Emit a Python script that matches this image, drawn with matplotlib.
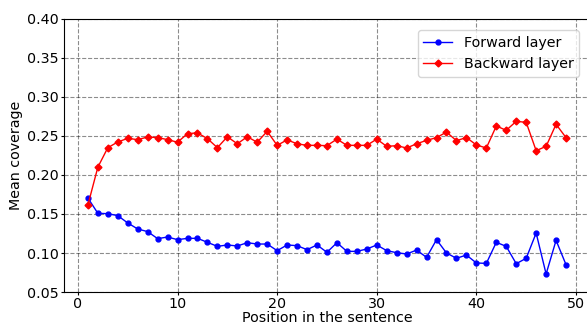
import matplotlib
matplotlib.use("Agg")
import matplotlib.pyplot as plt

# Position in the sentence
positions = list(range(1, 50))

# mean coverage
forward = [0.1705, 0.1509, 0.1504, 0.1479, 0.1385, 0.1308, 0.1274, 0.1184, 0.1205, 0.1171,
           0.1188, 0.1188, 0.1137, 0.1085, 0.1103, 0.1090, 0.1132, 0.1115, 0.1115, 0.1030,
           0.1103, 0.1094, 0.1043, 0.1103, 0.1009, 0.1132, 0.1021, 0.1021, 0.1051, 0.1103,
           0.1030, 0.1004, 0.0987, 0.1038, 0.0944, 0.1171, 0.1000, 0.0932, 0.0974, 0.0872,
           0.0867, 0.1137, 0.1085, 0.0863, 0.0932, 0.1256, 0.0731, 0.1162, 0.0850]
backward = [0.1615, 0.2100, 0.2350, 0.2423, 0.2470, 0.2453, 0.2487, 0.2480, 0.2453, 0.2420,
            0.2530, 0.2540, 0.2466, 0.2350, 0.2490, 0.2400, 0.2490, 0.2420, 0.2560, 0.2380,
            0.2450, 0.2400, 0.2380, 0.2380, 0.2376, 0.2460, 0.2380, 0.2380, 0.2380, 0.2460,
            0.2367, 0.2376, 0.2346, 0.2400, 0.2444, 0.2479, 0.2550, 0.2440, 0.2480, 0.2385,
            0.2346, 0.2628, 0.2573, 0.2688, 0.2675, 0.2312, 0.2367, 0.2650, 0.2479]

plt.rcParams["font.family"] = "DejaVu Sans"
plt.rcParams["font.size"] = 10.3

fig = plt.figure(figsize=(5.87, 3.27), dpi=100)
ax = fig.add_axes([0.109, 0.107, 0.896, 0.835])

ax.plot(positions, forward, color="blue", marker="o", markersize=3.5, linewidth=1, label="Forward layer")
ax.plot(positions, backward, color="red", marker="D", markersize=3.5, linewidth=1, label="Backward layer")

ax.set_xlim(-1.4, 51.4)
ax.set_ylim(0.05, 0.40)
ax.set_xticks([0, 10, 20, 30, 40, 50])
ax.set_yticks([0.05, 0.10, 0.15, 0.20, 0.25, 0.30, 0.35, 0.40])
ax.yaxis.set_major_formatter(matplotlib.ticker.FormatStrFormatter("%.2f"))
ax.tick_params(length=2, pad=1.5)
ax.grid(True, linestyle="--", color="black", alpha=0.45, linewidth=0.8)

ax.set_xlabel("Position in the sentence", labelpad=0)
ax.set_ylabel("Mean coverage", labelpad=3)
ax.legend(loc="upper right", bbox_to_anchor=(0.993, 0.985))

fig.savefig("out.png", dpi=100)
